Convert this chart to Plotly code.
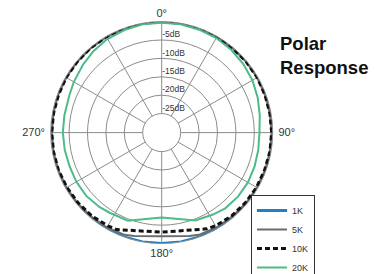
import plotly.graph_objects as go

# ---- data (dB relative, angle in degrees, 0 = top, clockwise) ----
theta_1k = [0, 10, 20, 30, 40, 50, 60, 70, 80, 90, 100, 110, 120, 130, 140, 150, 160, 170, 180,
            190, 200, 210, 220, 230, 240, 250, 260, 270, 280, 290, 300, 310, 320, 330, 340, 350, 360]
db_1k = [0.0, 0.0, 0.0, 0.0, 0.0, 0.0, 0.0, 0.0, 0.0, 0.0, 0.0, 0.0, 0.0, 0.0, 0.0, 0.0, 0.0, 0.0, 0.0,
         0.0, 0.0, 0.0, 0.0, 0.0, 0.0, 0.0, 0.0, 0.0, 0.0, 0.0, 0.0, 0.0, 0.0, 0.0, 0.0, 0.0, 0.0]

theta_5k = [0, 10, 20, 30, 40, 50, 60, 70, 80, 90, 100, 110, 120, 130, 140, 150, 160, 165, 180,
            195, 200, 210, 220, 230, 240, 250, 260, 270, 280, 290, 300, 310, 320, 330, 340, 350, 360]
db_5k = [-0.1, -0.1, -0.1, -0.2, -0.2, -0.2, -0.2, -0.3, -0.3, -0.3, -0.3, -0.3, -0.3, -0.3, -0.4, -0.4, -0.6, -1.1, -2.0,
         -1.1, -0.6, -0.4, -0.4, -0.3, -0.3, -0.3, -0.3, -0.3, -0.3, -0.2, -0.2, -0.2, -0.2, -0.1, -0.1, -0.1, -0.1]

theta_10k = [0, 10, 20, 30, 40, 50, 60, 70, 80, 90, 100, 110, 120, 130, 140, 150, 155, 180,
             205, 210, 220, 230, 240, 250, 260, 270, 280, 290, 300, 310, 320, 330, 340, 350, 360]
db_10k = [0.0, 0.0, -0.1, -0.1, -0.2, -0.2, -0.2, -0.3, -0.3, -0.3, -0.3, -0.4, -0.4, -0.5, -0.6, -0.9, -1.3, -3.1,
          -1.1, -0.9, -0.6, -0.5, -0.4, -0.3, -0.3, -0.3, -0.3, -0.3, -0.2, -0.2, -0.1, -0.1, 0.0, 0.0, 0.0]

theta_20k = [0, 10, 20, 30, 40, 50, 60, 70, 80, 90, 100, 110, 120, 130, 140, 148, 159, 180,
             201, 213, 220, 230, 240, 250, 260, 270, 280, 292, 300, 311, 320, 329, 340, 350, 360]
db_20k = [-0.3, -0.3, -0.4, -0.5, -0.8, -1.2, -1.7, -2.4, -3.1, -3.6, -3.5, -3.3, -3.1, -3.1, -3.3, -3.9, -4.6, -7.1,
          -4.5, -4.2, -3.8, -3.4, -3.4, -3.5, -3.4, -3.3, -3.3, -3.1, -2.6, -1.9, -1.3, -0.8, -0.5, -0.3, -0.3]

series_names = ["1K", "5K", "10K", "20K"]
series_colors = ["#1f80c6", "#6b6b6b", "#111111", "#4dbb88"]

radial_ticks = [-25, -20, -15, -10, -5]
radial_ticktext = ["-25dB<br>\u00a0", "-20dB<br>\u00a0", "-15dB<br>\u00a0", "-10dB<br>\u00a0", "-5dB<br>\u00a0"]
angle_ticks = [0, 30, 60, 90, 120, 150, 180, 210, 240, 270, 300, 330]
angle_ticktext = ["0°", "", "", "\u00a090°", "", "", "180°", "", "", "270°\u00a0", "", ""]

fig = go.Figure()
fig.add_trace(go.Scatterpolar(theta=theta_1k, r=db_1k, mode="lines", name=series_names[0],
                              line=dict(color=series_colors[0], width=3)))
fig.add_trace(go.Scatterpolar(theta=theta_5k, r=db_5k, mode="lines", name=series_names[1],
                              line=dict(color=series_colors[1], width=2)))
fig.add_trace(go.Scatterpolar(theta=theta_10k, r=db_10k, mode="lines", name=series_names[2],
                              line=dict(color=series_colors[2], width=3, dash="5px,3px")))
fig.add_trace(go.Scatterpolar(theta=theta_20k, r=db_20k, mode="lines", name=series_names[3],
                              line=dict(color=series_colors[3], width=2)))

# The page body has an 8px default margin, so the figure is shifted by OFF px.
OFF = 8
W, H = 385 - OFF, 282
cx, cy, R = 161.7 - OFF, 132.6 - OFF, 111.0
grid = "#8c8c8c"

fig.update_layout(
    width=W, height=H,
    margin=dict(l=0, r=0, t=0, b=0),
    paper_bgcolor="white",
    plot_bgcolor="white",
    font=dict(family="Liberation Sans, Arial, sans-serif", color="#333333", size=10),
    polar=dict(
        domain=dict(x=[(cx - R) / W, (cx + R) / W], y=[(H - cy - R) / H, (H - cy + R) / H]),
        hole=19 / 111,
        bgcolor="white",
        radialaxis=dict(
            range=[-25, 0],
            tickvals=radial_ticks,
            ticktext=radial_ticktext,
            angle=90,
            tickangle=90,
            showline=False,
            ticks="",
            gridcolor=grid,
            gridwidth=1,
            tickfont=dict(size=8.5, color="#333333"),
        ),
        angularaxis=dict(
            rotation=90,
            direction="clockwise",
            tickvals=angle_ticks,
            ticktext=angle_ticktext,
            ticks="",
            showline=True,
            linecolor=grid,
            linewidth=1,
            gridcolor=grid,
            gridwidth=1,
            tickfont=dict(size=11, color="#333333"),
        ),
    ),
    legend=dict(
        x=(251 - OFF) / W, y=1 - (195 - OFF) / H, xanchor="left", yanchor="top",
        bordercolor="#333333", borderwidth=1,
        font=dict(size=9, color="#333333"),
        tracegroupgap=0,
        bgcolor="white",
    ),
    showlegend=True,
    annotations=[
        dict(text="<b>Polar<br>Response</b>", x=(278 - OFF) / W, y=1 - (31 - OFF) / H,
             xref="paper", yref="paper",
             xanchor="left", yanchor="top", align="left", showarrow=False,
             font=dict(size=18.5, color="#111111", family="Liberation Sans, Arial, sans-serif")),
    ],
)

fig.write_html("out.html")
